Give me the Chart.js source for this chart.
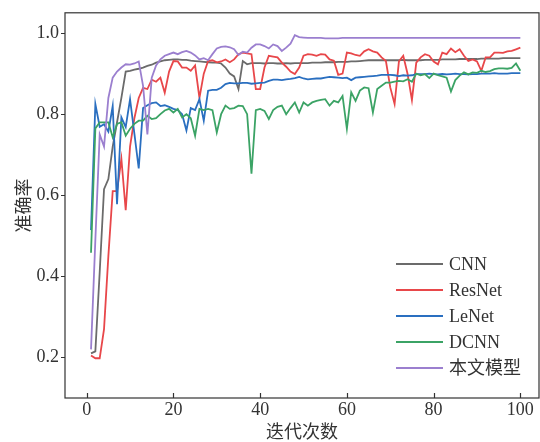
<!DOCTYPE html>
<html>
<head>
<meta charset="utf-8">
<script src="https://cdn.jsdelivr.net/npm/chart.js@4"></script>
<style>
  html, body { margin: 0; padding: 0; background: #fff; }
  #wrap { width: 540px; height: 442px; }
</style>
</head>
<body>
<div id="wrap"><canvas id="grab" width="540" height="442"></canvas></div>
<script>
const epochs = Array.from({ length: 100 }, (_, i) => i + 1);

const cnn = [
  0.21, 0.215, 0.41, 0.615, 0.64, 0.72, 0.78, 0.84, 0.905, 0.907,
  0.91, 0.912, 0.915, 0.919, 0.922, 0.927, 0.93, 0.933, 0.934, 0.935,
  0.935, 0.934, 0.934, 0.932, 0.931, 0.93, 0.929, 0.928, 0.927, 0.927,
  0.925, 0.915, 0.9, 0.893, 0.862, 0.931, 0.923, 0.926, 0.926, 0.926,
  0.925, 0.926, 0.926, 0.925, 0.925, 0.926, 0.925, 0.926, 0.926, 0.926,
  0.926, 0.927, 0.927, 0.927, 0.928, 0.928, 0.928, 0.929, 0.929, 0.929,
  0.93, 0.93, 0.931, 0.932, 0.933, 0.933, 0.933, 0.933, 0.933, 0.933,
  0.933, 0.933, 0.934, 0.933, 0.933, 0.933, 0.933, 0.934, 0.934, 0.934,
  0.934, 0.935, 0.935, 0.935, 0.935, 0.936, 0.936, 0.936, 0.936, 0.936,
  0.937, 0.937, 0.937, 0.937, 0.937, 0.938, 0.938, 0.938, 0.938, 0.938
];

const resnet = [
  0.205, 0.198, 0.198, 0.27, 0.45, 0.61, 0.61, 0.69, 0.563, 0.72,
  0.79, 0.84, 0.865, 0.862, 0.885, 0.88, 0.89, 0.853, 0.905, 0.931,
  0.93, 0.915, 0.915, 0.907, 0.92, 0.84, 0.9, 0.931, 0.933, 0.928,
  0.93, 0.935, 0.928, 0.935, 0.948, 0.952, 0.95, 0.948, 0.862, 0.862,
  0.915, 0.944, 0.942, 0.94, 0.927, 0.917, 0.905, 0.899, 0.915, 0.944,
  0.948, 0.947, 0.944, 0.948, 0.947, 0.935, 0.932, 0.897, 0.9, 0.952,
  0.95, 0.946, 0.944, 0.955, 0.96, 0.955, 0.952, 0.94, 0.931, 0.866,
  0.825, 0.93, 0.944, 0.899, 0.835, 0.927, 0.94, 0.948, 0.944, 0.93,
  0.923, 0.952, 0.948, 0.962, 0.953, 0.96, 0.944, 0.931, 0.935, 0.93,
  0.907, 0.94, 0.94, 0.952, 0.952, 0.951, 0.955, 0.956, 0.96, 0.964
];

const lenet = [
  0.514, 0.825, 0.769, 0.775, 0.757, 0.82, 0.578, 0.792, 0.768, 0.837,
  0.752, 0.666, 0.815, 0.822, 0.827, 0.829, 0.82, 0.822, 0.818, 0.813,
  0.81, 0.8, 0.76, 0.815, 0.81, 0.837, 0.784, 0.858, 0.86, 0.86,
  0.865, 0.874, 0.877, 0.876, 0.876, 0.877, 0.877, 0.875, 0.876, 0.877,
  0.878, 0.882, 0.885, 0.885, 0.884, 0.886, 0.887, 0.889, 0.892, 0.888,
  0.886, 0.887, 0.888, 0.888, 0.89, 0.892, 0.891, 0.89, 0.889, 0.89,
  0.884, 0.89, 0.891, 0.892, 0.893, 0.894, 0.895, 0.897, 0.897, 0.897,
  0.896, 0.894, 0.896, 0.895, 0.896, 0.899, 0.899, 0.899, 0.9, 0.899,
  0.898, 0.899, 0.898, 0.899, 0.9, 0.899, 0.899, 0.898, 0.899, 0.899,
  0.9, 0.9, 0.9, 0.901, 0.9, 0.9, 0.9, 0.901, 0.901, 0.901
];

const dcnn = [
  0.458, 0.765, 0.78, 0.78, 0.78, 0.743, 0.776, 0.78, 0.747, 0.764,
  0.776, 0.784, 0.784, 0.796, 0.788, 0.79, 0.8, 0.809, 0.813, 0.804,
  0.813, 0.792, 0.8, 0.79, 0.747, 0.813, 0.81, 0.813, 0.81, 0.755,
  0.8, 0.821, 0.813, 0.815, 0.821, 0.82, 0.8, 0.653, 0.81, 0.813,
  0.808, 0.788, 0.81, 0.818, 0.821, 0.8, 0.815, 0.829, 0.804, 0.829,
  0.821, 0.829, 0.833, 0.835, 0.837, 0.821, 0.833, 0.829, 0.845, 0.764,
  0.854, 0.833, 0.858, 0.866, 0.864, 0.804, 0.862, 0.87, 0.878, 0.878,
  0.88, 0.882, 0.881, 0.886, 0.88, 0.9, 0.896, 0.899, 0.889, 0.9,
  0.896, 0.893, 0.89, 0.856, 0.884, 0.895, 0.903, 0.898, 0.903, 0.902,
  0.907, 0.904, 0.906, 0.911, 0.913, 0.913, 0.912, 0.914, 0.925, 0.907
];

const ours = [
  0.22, 0.49, 0.75, 0.72, 0.84, 0.89, 0.905, 0.915, 0.923, 0.922,
  0.925, 0.93, 0.87, 0.75, 0.89, 0.92, 0.935, 0.944, 0.948, 0.952,
  0.948, 0.953, 0.956, 0.952, 0.945, 0.935, 0.938, 0.933, 0.948, 0.962,
  0.966, 0.967, 0.965, 0.96, 0.946, 0.954, 0.952, 0.964, 0.972, 0.972,
  0.968, 0.962, 0.972, 0.968, 0.956, 0.964, 0.974, 0.995, 0.99, 0.989,
  0.988, 0.988, 0.988, 0.988, 0.987, 0.987, 0.987, 0.987, 0.988, 0.988,
  0.988, 0.988, 0.988, 0.988, 0.988, 0.988, 0.988, 0.988, 0.988, 0.988,
  0.988, 0.988, 0.988, 0.988, 0.988, 0.988, 0.988, 0.988, 0.988, 0.988,
  0.988, 0.988, 0.988, 0.988, 0.988, 0.988, 0.988, 0.988, 0.988, 0.988,
  0.988, 0.988, 0.988, 0.988, 0.988, 0.988, 0.988, 0.988, 0.988, 0.988
];

const seriesNames = ["CNN", "ResNet", "LeNet", "DCNN", "本文模型"];
const seriesColors = ["#6b6b6b", "#e8474a", "#2a6fc0", "#3ba365", "#9b7fcf"];
const xTicks = [0, 20, 40, 60, 80, 100];
const yTicks = [0.2, 0.4, 0.6, 0.8, 1.0];

const serif = "'Liberation Serif', 'Times New Roman', 'Noto Sans CJK SC', serif";
const ink = "#333";

// box around the plot, x ticks pointing inward, legend in lower right
const frame = {
  id: "frame",
  afterDraw(chart) {
    const { ctx, chartArea: a, scales } = chart;
    ctx.save();
    ctx.strokeStyle = ink;
    ctx.lineWidth = 1.2;
    ctx.strokeRect(a.left, a.top, a.right - a.left, a.bottom - a.top);
    ctx.beginPath();
    xTicks.forEach(v => {
      const px = Math.round(scales.x.getPixelForValue(v)) + 0.5;
      ctx.moveTo(px, a.bottom);
      ctx.lineTo(px, a.bottom - 5);
    });
    ctx.stroke();

    ctx.font = "18px " + serif;
    ctx.textBaseline = "middle";
    chart.data.datasets.forEach((ds, i) => {
      const y = 264 + i * 26;
      ctx.strokeStyle = ds.borderColor;
      ctx.lineWidth = 1.8;
      ctx.beginPath();
      ctx.moveTo(396, y);
      ctx.lineTo(443, y);
      ctx.stroke();
      ctx.fillStyle = ink;
      ctx.fillText(ds.label, 449, y + 1);
    });
    ctx.restore();
  }
};

const datasets = seriesNames.map((name, i) => ({
  label: name,
  data: [cnn, resnet, lenet, dcnn, ours][i].map((v, j) => ({ x: epochs[j], y: v })),
  borderColor: seriesColors[i],
  borderWidth: 1.8,
  pointRadius: 0,
  tension: 0,
  fill: false,
  order: 4 - i
}));

new Chart(document.querySelector("#grab"), {
  type: "line",
  data: { datasets },
  plugins: [frame],
  options: {
    responsive: false,
    animation: false,
    layout: { padding: { left: 0, right: 1, top: 12, bottom: 0 } },
    plugins: { legend: { display: false }, tooltip: { enabled: false } },
    scales: {
      x: {
        type: "linear",
        min: -5,
        max: 104.3,
        afterBuildTicks: s => { s.ticks = xTicks.map(v => ({ value: v })); },
        afterFit: s => { s.height = 44; },
        grid: { display: false, drawTicks: false },
        border: { display: false },
        ticks: { color: ink, font: { family: serif, size: 18 }, padding: 1, maxRotation: 0 },
        title: { display: true, text: "迭代次数", color: ink, font: { family: serif, size: 18 }, padding: { top: 0, bottom: -2 } }
      },
      y: {
        min: 0.1,
        max: 1.05,
        afterBuildTicks: s => { s.ticks = yTicks.map(v => ({ value: v })); },
        afterFit: s => { s.width = 65; },
        grid: { display: true, drawOnChartArea: false, drawTicks: true, tickLength: 4, color: ink },
        border: { display: false },
        ticks: { color: ink, font: { family: serif, size: 18 }, padding: 2, callback: v => v.toFixed(1) },
        title: { display: true, text: "准确率", color: ink, font: { family: serif, size: 18 }, padding: { top: 14, bottom: 0 } }
      }
    }
  }
});
</script>
</body>
</html>
